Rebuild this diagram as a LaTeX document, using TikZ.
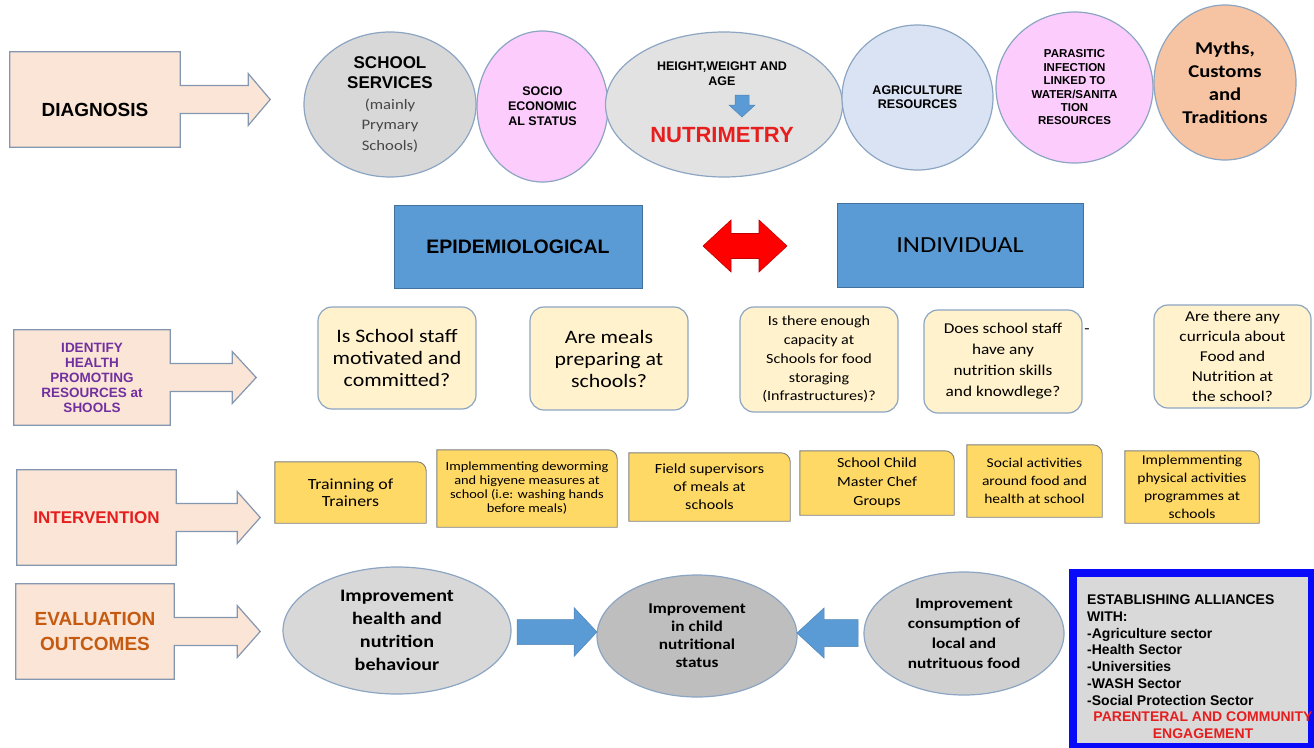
\documentclass[tikz,border=0pt]{standalone}
\usepackage{fontspec}
\setmainfont{Liberation Sans}
\newfontfamily\calf{Carlito}[FakeStretch=1.15]
\usetikzlibrary{calc,shapes.geometric,backgrounds}

\definecolor{peach}{RGB}{251,229,214}
\definecolor{peachline}{RGB}{132,151,176}
\definecolor{ovalline}{RGB}{140,165,195}
\definecolor{greyfill}{RGB}{216,216,216}
\definecolor{greylight}{RGB}{226,226,226}
\definecolor{greydark}{RGB}{190,190,190}
\definecolor{greymid}{RGB}{208,208,208}
\definecolor{notegrey}{RGB}{70,70,70}
\definecolor{pinkfill}{RGB}{252,204,252}
\definecolor{skyfill}{RGB}{218,227,243}
\definecolor{orangefill}{RGB}{246,196,162}
\definecolor{boxblue}{RGB}{91,155,213}
\definecolor{boxblueline}{RGB}{65,113,156}
\definecolor{creamfill}{RGB}{255,242,204}
\definecolor{goldfill}{RGB}{255,217,102}
\definecolor{goldline}{RGB}{127,127,127}
\definecolor{purpletxt}{RGB}{112,48,160}
\definecolor{redtxt}{RGB}{230,30,30}
\definecolor{browntxt}{RGB}{197,90,17}
\definecolor{allyblue}{RGB}{10,10,250}
\definecolor{allygrey}{RGB}{217,217,217}
\definecolor{linkred}{RGB}{255,0,0}
\definecolor{linkline}{RGB}{192,0,0}

\tikzset{
  stagearrow/.style={draw=peachline, fill=peach, line width=1.2pt},
  stage/.style={minimum height=95pt, inner sep=0pt, align=center, font=\fontsize{19}{25}\selectfont\bfseries},
  oval/.style={ellipse, draw=ovalline, line width=1.2pt, inner sep=0pt, align=center},
  band/.style={draw=boxblueline, fill=boxblue, line width=1pt, inner sep=0pt},
  question/.style={draw=ovalline, fill=creamfill, line width=1.2pt, rounded corners=14pt, inner sep=0pt, align=center},
  task/.style={inner sep=0pt, align=center},
  taskline/.style={draw=goldline, fill=goldfill, line width=0.9pt},
  fatarrow/.style={draw=boxblue!85!black, fill=boxblue, line width=0.5pt},
}

\begin{document}
\begin{tikzpicture}[x=1pt, y=-1pt]
    \useasboundingbox (0,0) rectangle (1314,747);
    \clip (0,0) rectangle (1314,747);

    \node[stage, minimum width=170pt, text height=33pt, text depth=0pt] (diag) at (95,99.5) {DIAGNOSIS};
    \node[stage, minimum width=156pt, text=purpletxt, font=\fontsize{13.5}{15}\selectfont\bfseries] (ident) at (92,377.5) {IDENTIFY\\HEALTH\\PROMOTING\\RESOURCES at\\SHOOLS};
    \node[stage, minimum width=159pt, text=redtxt, font=\fontsize{17}{20}\selectfont\bfseries] (interv) at (96.5,517.5) {INTERVENTION};
    \node[stage, minimum width=158pt, text=browntxt] (evalo) at (95,631.5) {EVALUATION\\OUTCOMES};
    \begin{scope}[on background layer]
      \foreach \n/\h/\t in {diag/68/90, ident/62/86, interv/61/84, evalo/63/86}
        \draw[stagearrow] (\n.north west) -- (\n.north east) -- ($(\n.east)+(0,-14)$) -- ++(\h,0) -- ++(0,-12) -- ($(\n.east)+(\t,0)$) -- ($(\n.east)+(\h,26)$) -- ++(0,-12) -- ($(\n.east)+(0,14)$) -- (\n.south east) -- (\n.south west) -- cycle;
    \end{scope}

    \node[oval, fill=greyfill, minimum width=172pt, minimum height=145pt, font=\fontsize{17}{20.5}\selectfont\bfseries] (school) at (390,104.5) {SCHOOL\\SERVICES\\{\calf\mdseries\fontsize{14.5}{20.5}\selectfont\color{notegrey}(mainly}\\{\calf\mdseries\fontsize{14.5}{20.5}\selectfont\color{notegrey}Prymary}\\{\calf\mdseries\fontsize{14.5}{20.5}\selectfont\color{notegrey}Schools)}};
    \node[oval, fill=pinkfill, minimum width=131pt, minimum height=151pt, font=\fontsize{12.5}{15}\selectfont\bfseries] (socio) at (542.5,106.5) {SOCIO\\ECONOMIC\\AL STATUS};
    \node[oval, fill=greylight, minimum width=237pt, minimum height=145pt] (nutri) at (724,104.5) {};
    \node[align=center, inner sep=0pt, font=\fontsize{12.5}{15}\selectfont\bfseries] (hwa) at (722,73.5) {HEIGHT,WEIGHT AND\\AGE};
    \draw[fatarrow] (735,95) -- (749,95) -- (749,105) -- (755,105) -- (742,117) -- (729,105) -- (735,105) -- cycle;
    \node[inner sep=0pt, text=redtxt, font=\fontsize{22}{26}\selectfont\bfseries] (nutrilbl) at (722,135) {NUTRIMETRY};
    \node[oval, fill=skyfill, minimum width=151pt, minimum height=145pt, font=\fontsize{12.5}{14}\selectfont\bfseries] (agri) at (917.5,97.5) {AGRICULTURE\\RESOURCES};
    \node[oval, fill=pinkfill, minimum width=157pt, minimum height=151pt, font=\fontsize{11.5}{13.4}\selectfont\bfseries] (parasite) at (1074.5,87.5) {PARASITIC\\INFECTION\\LINKED TO\\WATER/SANITA\\TION\\RESOURCES};
    \node[oval, fill=orangefill, minimum width=142pt, minimum height=155pt, font=\calf\bfseries\fontsize{18}{23}\selectfont] (myths) at (1225,82.5) {Myths,\\Customs\\and\\Traditions};

    \node[band, minimum width=248pt, minimum height=83pt, font=\fontsize{19.5}{22}\selectfont\bfseries] (epi) at (518,246.5) {EPIDEMIOLOGICAL};
    \node[band, minimum width=246pt, minimum height=84pt, font=\calf\fontsize{23}{26}\selectfont] (indiv) at (960,245) {INDIVIDUAL};
    \draw[draw=linkline, fill=linkred, line width=0.6pt] (731,233.5) -- (759,233.5) -- (759,220) -- (787,246) -- (759,272) -- (759,258.5) -- (731,258.5) -- (731,272) -- (703,246) -- (731,220) -- cycle;

    \node[question, minimum width=158pt, minimum height=102pt, font=\calf\fontsize{19}{22}\selectfont] (q1) at (397,358) {Is School staff\\motivated and\\committed?};
    \node[question, minimum width=158pt, minimum height=103pt, font=\calf\fontsize{19}{22}\selectfont] (q2) at (609,358.5) {Are meals\\preparing at\\schools?};
    \node[question, minimum width=158pt, minimum height=105pt, font=\calf\fontsize{14}{18.7}\selectfont] (q3) at (819,359.5) {Is there enough\\capacity at\\Schools for food\\storaging\\(Infrastructures)?};
    \node[question, minimum width=158pt, minimum height=103pt, font=\calf\fontsize{15}{21}\selectfont] (q4) at (1003,361.5) {Does school staff\\have any\\nutrition skills\\and knowdlege?};
    \node[question, minimum width=157pt, minimum height=103pt, font=\calf\fontsize{15}{20}\selectfont] (q5) at (1232.5,356.5) {Are there any\\curricula about\\Food and\\Nutrition at\\the school?};
    \node[inner sep=0pt, font=\calf\fontsize{15}{18}\selectfont] (qdash) at (1087,331) {-};

    \node[task, minimum width=151pt, minimum height=61pt, font=\calf\fontsize{15.5}{16.5}\selectfont] (t1) at (350.5,492.5) {Trainning of\\Trainers};
    \node[task, minimum width=180pt, minimum height=77pt, font=\calf\fontsize{12.5}{14}\selectfont] (t2) at (527,488.5) {Implemmenting deworming\\and higyene measures at\\school (i.e: washing hands\\before meals)};
    \node[task, minimum width=161pt, minimum height=68pt, font=\calf\fontsize{14}{18}\selectfont] (t3) at (709.5,487) {Field supervisors\\of meals at\\schools};
    \node[task, minimum width=154pt, minimum height=64pt, font=\calf\fontsize{14}{19}\selectfont] (t4) at (877,483) {School Child\\Master Chef\\Groups};
    \node[task, minimum width=135pt, minimum height=72pt, font=\calf\fontsize{13.5}{18}\selectfont] (t5) at (1034.5,481) {Social activities\\around food and\\health at school};
    \node[task, minimum width=134pt, minimum height=72pt, font=\calf\fontsize{13.5}{18}\selectfont] (t6) at (1192,487) {Implemmenting\\physical activities\\programmes at\\schools};
    \begin{scope}[on background layer]
      \foreach \n in {t1,t2,t3,t4,t5,t6}
        \draw[taskline] (\n.south west) -- (\n.north west) -- ($(\n.north east)+(-9,0)$) arc[start angle=90, end angle=0, radius=9pt] -- (\n.south east) -- cycle;
    \end{scope}

    \node[oval, fill=greyfill, minimum width=228pt, minimum height=127pt, font=\calf\bfseries\fontsize{17.5}{23}\selectfont] (behav) at (397,630.5) {Improvement\\health and\\nutrition\\behaviour};
    \node[oval, fill=greydark, minimum width=200pt, minimum height=122pt, font=\calf\bfseries\fontsize{15}{18}\selectfont] (status) at (697,636) {Improvement\\in child\\nutritional\\status};
    \node[oval, fill=greymid, minimum width=200pt, minimum height=123pt, font=\calf\bfseries\fontsize{15}{20}\selectfont] (food) at (964,633.5) {Improvement\\consumption of\\local and\\nutrituous food};
    \draw[fatarrow] (517,619.5) -- (574,619.5) -- (574,607.5) -- (597,632) -- (574,656.5) -- (574,644.5) -- (517,644.5) -- cycle;
    \draw[fatarrow] (858,619.5) -- (824,619.5) -- (824,608) -- (797,633) -- (824,658) -- (824,646.5) -- (858,646.5) -- cycle;

    \node[draw=allyblue, line width=8pt, fill=allygrey, minimum width=239pt, minimum height=174pt, inner sep=0pt] (allies) at (1192.5,660) {};
    \node[anchor=west, align=left, inner sep=0pt, font=\fontsize{14}{16.8}\selectfont\bfseries] (allylist) at (1087,650) {ESTABLISHING ALLIANCES\\WITH:\\-Agriculture sector\\-Health Sector\\-Universities\\-WASH Sector\\-Social Protection Sector};
    \node[align=center, inner sep=0pt, text=redtxt, font=\fontsize{14}{16.8}\selectfont\bfseries] (engage) at (1203,725) {PARENTERAL AND COMMUNITY\\ENGAGEMENT};
\end{tikzpicture}
\end{document}
